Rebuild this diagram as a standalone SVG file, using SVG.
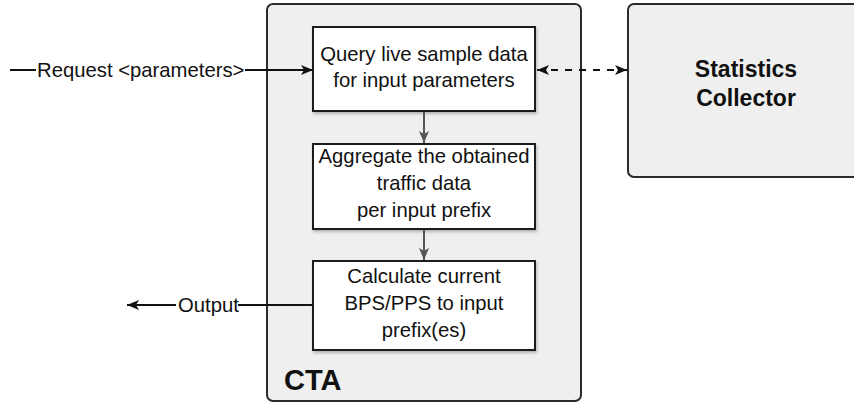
<svg xmlns="http://www.w3.org/2000/svg" width="854" height="407" viewBox="0 0 854 407">
  <style>
    .panel { fill: #efefef; stroke: #2b2b2b; stroke-width: 2; }
    .step { fill: #ffffff; stroke: #1e1e1e; stroke-width: 2; filter: url(#shadow); }
    .txt { font-family: "Liberation Sans", Arial, sans-serif; font-size: 20.3px; fill: #111; text-anchor: middle; }
    .lbl { font-family: "Liberation Sans", Arial, sans-serif; font-size: 20.3px; fill: #111; }
    .title { font-family: "Liberation Sans", Arial, sans-serif; font-weight: bold; fill: #111; }
    .wire { stroke: #111; stroke-width: 2; fill: none; }
    .flow { stroke: #555; stroke-width: 2; fill: none; }
    .dash { stroke: #111; stroke-width: 2; fill: none; stroke-dasharray: 7 7; }
  </style>
  <defs>
    <filter id="shadow" x="-10%" y="-10%" width="130%" height="130%">
      <feDropShadow dx="1" dy="2" stdDeviation="1.5" flood-color="#000" flood-opacity="0.25"/>
    </filter>
    <marker id="arrowBlack" viewBox="0 0 12 10" refX="12" refY="5" markerWidth="12" markerHeight="10" markerUnits="userSpaceOnUse" orient="auto-start-reverse">
      <path d="M0,0 L12,5 L0,10 L3,5 Z" fill="#111"/>
    </marker>
    <marker id="arrowGray" viewBox="0 0 12 10" refX="12" refY="5" markerWidth="12" markerHeight="10" markerUnits="userSpaceOnUse" orient="auto">
      <path d="M0,0 L12,5 L0,10 L3,5 Z" fill="#555"/>
    </marker>
  </defs>

  <!-- CTA container -->
  <g id="cta">
    <rect class="panel" x="267" y="4" width="314" height="397" rx="6"/>
    <text class="title" x="284" y="390" font-size="29">CTA</text>
  </g>

  <!-- Statistics Collector -->
  <g id="collector">
    <rect class="panel" x="628" y="4" width="240" height="173" rx="6"/>
    <text class="title" x="746" y="77" font-size="23" text-anchor="middle">Statistics</text>
    <text class="title" x="746" y="106" font-size="23" text-anchor="middle">Collector</text>
  </g>

  <!-- Processing steps -->
  <g id="query">
    <rect class="step" x="313" y="27" width="222" height="84"/>
    <text class="txt" x="424" y="61">Query live sample data</text>
    <text class="txt" x="424" y="87">for input parameters</text>
  </g>

  <g id="aggregate">
    <rect class="step" x="313" y="144" width="222" height="85"/>
    <text class="txt" x="424" y="163">Aggregate the obtained</text>
    <text class="txt" x="424" y="190">traffic data</text>
    <text class="txt" x="424" y="217">per input prefix</text>
  </g>

  <g id="calculate">
    <rect class="step" x="313" y="261" width="222" height="89"/>
    <text class="txt" x="424" y="283">Calculate current</text>
    <text class="txt" x="424" y="310">BPS/PPS to input</text>
    <text class="txt" x="424" y="337">prefix(es)</text>
  </g>

  <!-- Connectors -->
  <g id="connectors">
    <line class="wire" x1="10" y1="70" x2="36" y2="70"/>
    <text class="lbl" x="37" y="77">Request &lt;parameters&gt;</text>
    <line class="wire" x1="245" y1="70" x2="313" y2="70" marker-end="url(#arrowBlack)"/>

    <line class="dash" x1="537" y1="70" x2="627" y2="70" marker-start="url(#arrowBlack)" marker-end="url(#arrowBlack)"/>

    <line class="flow" x1="424" y1="112" x2="424" y2="143" marker-end="url(#arrowGray)"/>
    <line class="flow" x1="424" y1="230" x2="424" y2="260" marker-end="url(#arrowGray)"/>

    <line class="wire" x1="313" y1="305" x2="238" y2="305"/>
    <text class="lbl" x="178" y="312">Output</text>
    <line class="wire" x1="176" y1="305" x2="127" y2="305" marker-end="url(#arrowBlack)"/>
  </g>
</svg>
